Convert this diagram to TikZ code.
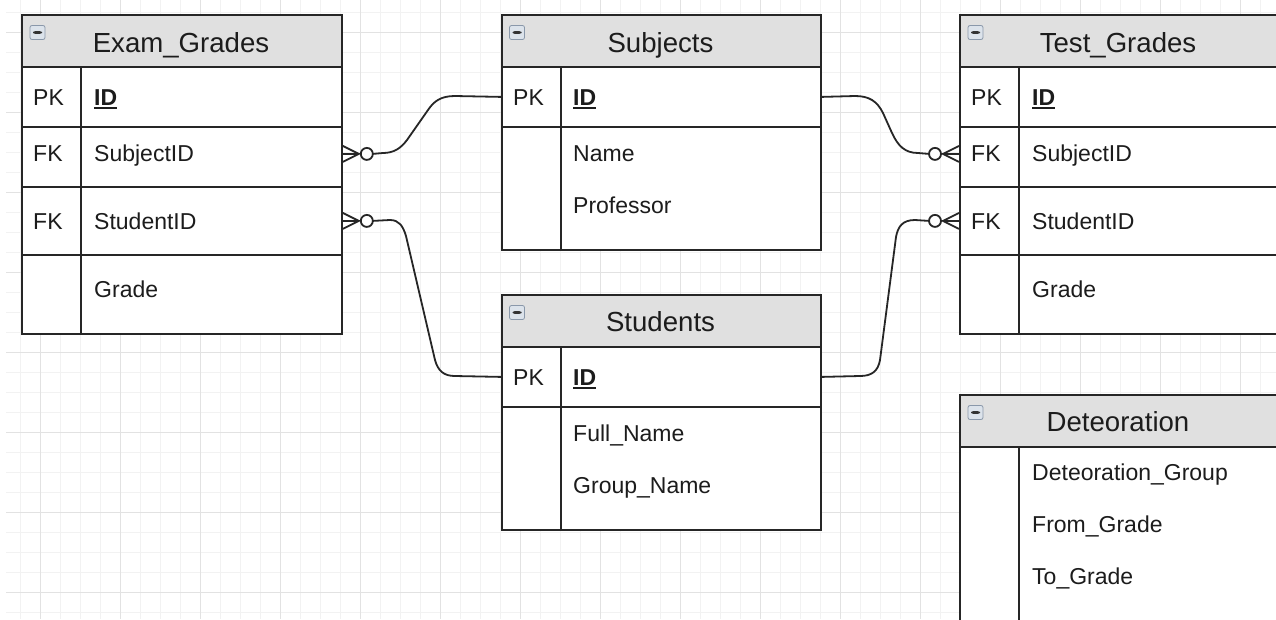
\documentclass[tikz,border=0pt]{standalone}
\usepackage{fontspec}
\setmainfont{Liberation Sans}
\usetikzlibrary{calc}
\definecolor{bd}{HTML}{262626}
\definecolor{hdrfill}{HTML}{E0E0E0}
\definecolor{gridminor}{HTML}{F2F2F2}
\definecolor{gridmajor}{HTML}{E2E2E2}
\definecolor{txt}{HTML}{1C1C1C}
\definecolor{iconbd}{HTML}{8A98AA}
\definecolor{iconfill}{HTML}{DCE3EB}
\newcommand\myul[1]{\setbox0\hbox{#1}\rlap{\rule[-3.5pt]{\wd0}{1.8pt}}\box0}
\newcommand\titlefont{\fontsize{27.6}{32}\selectfont}
\newcommand\rowfont{\fontsize{23}{27}\selectfont}
\begin{document}
\begin{tikzpicture}[x=1pt,y=-1pt,
  hdr/.style={draw=bd, fill=hdrfill, line width=1.8pt, anchor=north west, inner sep=0pt, minimum height=52pt},
  rowbox/.style={draw=bd, fill=white, line width=1.8pt, anchor=north west, inner sep=0pt},
  divider/.style={draw=bd, line width=1.8pt},
  ttl/.style={anchor=base, inner sep=0pt, font=\titlefont, text=txt},
  fld/.style={anchor=base west, inner sep=0pt, font=\rowfont, text=txt},
  conn/.style={draw=bd, line width=1.8pt},
  ring/.style={draw=bd, fill=white, line width=1.8pt},
  icon/.style={draw=iconbd, fill=iconfill, line width=0.8pt, rounded corners=2pt,
    minimum width=15pt, minimum height=14pt, inner sep=0pt,
    path picture={\fill[black!80] ([xshift=-4.5pt,yshift=-1.3pt]path picture bounding box.center) rectangle ([xshift=4.5pt,yshift=1.3pt]path picture bounding box.center);}},
  gmin/.style={draw=gridminor, line width=1pt},
  gmaj/.style={draw=gridmajor, line width=1pt}
]
\useasboundingbox (0,0) rectangle (1276,619);
\clip (0,0) rectangle (1276,619);
\fill[white] (0,0) rectangle (1276,619);
% grid
\foreach \i in {1,...,63} \draw[gmin] (0.7+20*\i,0) -- (0.7+20*\i,619);
\foreach \j in {0,...,30} \draw[gmin] (6,12.3+20*\j) -- (1276,12.3+20*\j);
\foreach \i in {0,...,15} \draw[gmaj] (40.7+80*\i,0) -- (40.7+80*\i,619);
\foreach \j in {0,...,7} \draw[gmaj] (6,32.3+80*\j) -- (1276,32.3+80*\j);

% ===== Exam_Grades =====
\node[hdr, minimum width=320pt] (eg-h) at (21,14) {};
\node[rowbox, minimum width=320pt, minimum height=60pt] (eg-id) at (21,66) {};
\node[rowbox, minimum width=320pt, minimum height=60pt] (eg-subj) at (21,126) {};
\node[rowbox, minimum width=320pt, minimum height=68pt] (eg-stud) at (21,186) {};
\node[rowbox, minimum width=320pt, minimum height=79pt] (eg-grade) at (21,254) {};
\draw[divider] (81,66) -- (81,333);
\node[icon] (eg-icon) at (37.5,32.5) {};
\node[ttl] (eg-t) at (181,52) {Exam\_Grades};
\node[fld] (eg-k1) at (33,105) {PK};
\node[fld] (eg-f1) at (94,105) {\myul{\bfseries ID}};
\node[fld] (eg-k2) at (33,161) {FK};
\node[fld] (eg-f2) at (94,161) {SubjectID};
\node[fld] (eg-k3) at (33,229) {FK};
\node[fld] (eg-f3) at (94,229) {StudentID};
\node[fld] (eg-f4) at (94,297) {Grade};

% ===== Subjects =====
\node[hdr, minimum width=319pt] (sb-h) at (501,14) {};
\node[rowbox, minimum width=319pt, minimum height=60pt] (sb-id) at (501,66) {};
\node[rowbox, minimum width=319pt, minimum height=123pt] (sb-rest) at (501,126) {};
\draw[divider] (561,66) -- (561,249);
\node[icon] (sb-icon) at (517,32.5) {};
\node[ttl] (sb-t) at (660.5,52) {Subjects};
\node[fld] (sb-k1) at (513,105) {PK};
\node[fld] (sb-f1) at (573,105) {\myul{\bfseries ID}};
\node[fld] (sb-f2) at (573,161) {Name};
\node[fld] (sb-f3) at (573,213) {Professor};

% ===== Students =====
\node[hdr, minimum width=319pt] (st-h) at (501,294) {};
\node[rowbox, minimum width=319pt, minimum height=60pt] (st-id) at (501,346) {};
\node[rowbox, minimum width=319pt, minimum height=123pt] (st-rest) at (501,406) {};
\draw[divider] (561,346) -- (561,529);
\node[icon] (st-icon) at (517,312.5) {};
\node[ttl] (st-t) at (660.5,331) {Students};
\node[fld] (st-k1) at (513,385) {PK};
\node[fld] (st-f1) at (573,385) {\myul{\bfseries ID}};
\node[fld] (st-f2) at (573,441) {Full\_Name};
\node[fld] (st-f3) at (573,493) {Group\_Name};

% ===== Test_Grades =====
\node[hdr, minimum width=318pt] (tg-h) at (959,14) {};
\node[rowbox, minimum width=318pt, minimum height=60pt] (tg-id) at (959,66) {};
\node[rowbox, minimum width=318pt, minimum height=60pt] (tg-subj) at (959,126) {};
\node[rowbox, minimum width=318pt, minimum height=68pt] (tg-stud) at (959,186) {};
\node[rowbox, minimum width=318pt, minimum height=79pt] (tg-grade) at (959,254) {};
\draw[divider] (1019,66) -- (1019,333);
\node[icon] (tg-icon) at (975.5,32.5) {};
\node[ttl] (tg-t) at (1118,52) {Test\_Grades};
\node[fld] (tg-k1) at (971,105) {PK};
\node[fld] (tg-f1) at (1032,105) {\myul{\bfseries ID}};
\node[fld] (tg-k2) at (971,161) {FK};
\node[fld] (tg-f2) at (1032,161) {SubjectID};
\node[fld] (tg-k3) at (971,229) {FK};
\node[fld] (tg-f3) at (1032,229) {StudentID};
\node[fld] (tg-f4) at (1032,297) {Grade};

% ===== Deteoration =====
\node[hdr, minimum width=318pt] (dt-h) at (959,394) {};
\node[rowbox, minimum width=318pt, minimum height=200pt] (dt-rest) at (959,446) {};
\draw[divider] (1019,446) -- (1019,640);
\node[icon] (dt-icon) at (975.5,412.5) {};
\node[ttl] (dt-t) at (1118,431) {Deteoration};
\node[fld] (dt-f1) at (1032,480) {Deteoration\_Group};
\node[fld] (dt-f2) at (1032,532) {From\_Grade};
\node[fld] (dt-f3) at (1032,584) {To\_Grade};

% ===== connectors =====
\coordinate (a1) at ([yshift=3pt]eg-subj.east);
\coordinate (a2) at (eg-stud.east);
\coordinate (a3) at ([yshift=3pt]tg-subj.west);
\coordinate (a4) at (tg-stud.west);

% Exam_Grades.SubjectID -> Subjects.ID
\draw[conn] (a1) -- ++(16,0) -- ++(-16,8);
\draw[conn] (a1) ++(16,0) -- ++(-16,-8);
\draw[conn] ($(a1)+(30,0)$) -- (383,153) .. controls (394,153) and (401,148) .. (407,140)
  -- (428,110) .. controls (434,101) and (441,96) .. (455,96) -- (sb-id.west);
\draw[ring] ($(a1)+(24,0)$) circle[radius=6pt];

% Exam_Grades.StudentID -> Students.ID
\draw[conn] (a2) -- ++(16,0) -- ++(-16,8);
\draw[conn] (a2) ++(16,0) -- ++(-16,-8);
\draw[conn] ($(a2)+(30,0)$) -- (390,220) .. controls (399,220) and (403,226) .. (406,236)
  -- (435,360) .. controls (438,371) and (444,376) .. (455,376) -- (st-id.west);
\draw[ring] ($(a2)+(24,0)$) circle[radius=6pt];

% Subjects.ID -> Test_Grades.SubjectID
\draw[conn] (a3) -- ++(-16,0) -- ++(16,8);
\draw[conn] (a3) ++(-16,0) -- ++(16,-8);
\draw[conn] (sb-id.east) -- (855,96) .. controls (869,96) and (877,101) .. (883,113)
  -- (892,133) .. controls (898,146) and (905,153) .. (918,153) -- ($(a3)+(-30,0)$);
\draw[ring] ($(a3)+(-24,0)$) circle[radius=6pt];

% Students.ID -> Test_Grades.StudentID
\draw[conn] (a4) -- ++(-16,0) -- ++(16,8);
\draw[conn] (a4) ++(-16,0) -- ++(16,-8);
\draw[conn] (st-id.east) -- (860,376) .. controls (872,376) and (878,371) .. (880,360)
  -- (896,237) .. controls (898,226) and (903,220) .. (915,220) -- ($(a4)+(-30,0)$);
\draw[ring] ($(a4)+(-24,0)$) circle[radius=6pt];
\end{tikzpicture}
\end{document}
